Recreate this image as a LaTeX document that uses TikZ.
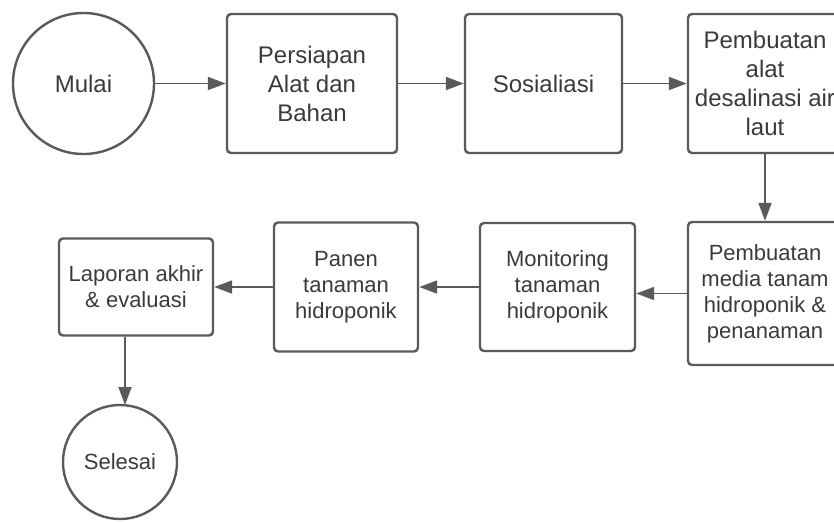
\documentclass[tikz,border=0pt]{standalone}
\usepackage{fontspec}
\setmainfont{Liberation Sans}
\usetikzlibrary{arrows.meta}
\definecolor{garis}{HTML}{5A5A5A}
\definecolor{teks}{HTML}{3A3A3A}
\tikzset{
  kotak/.style={draw=garis,line width=2.4pt,rounded corners=4pt,align=center,text=teks,inner sep=0pt},
  bulat/.style={draw=garis,line width=2.4pt,circle,align=center,text=teks,inner sep=0pt},
  besar/.style={font=\fontsize{24}{29}\selectfont},
  kecil/.style={font=\fontsize{22}{26}\selectfont},
  panah/.style={draw=garis,line width=1.8pt,-{Triangle[length=18pt,width=13pt]}}
}
\begin{document}
\begin{tikzpicture}[x=1pt,y=-1pt]
  \useasboundingbox (0,0) rectangle (834,523);
  \clip (0,0) rectangle (834,523);

  % Baris atas
  \node[bulat,besar,minimum size=141pt] (mulai) at (83.5,83.5) {Mulai};
  \node[kotak,besar,minimum width=170pt,minimum height=139pt] (persiapan) at (312,83.5) {Persiapan\\Alat dan\\Bahan};
  \node[kotak,besar,minimum width=157pt,minimum height=139pt] (sosialiasi) at (543.5,83.5) {Sosialiasi};
  \node[kotak,besar,minimum width=154pt,minimum height=139pt] (alat) at (765,83.5) {Pembuatan\\alat\\desalinasi air\\laut};

  % Baris bawah
  \node[kotak,kecil,minimum width=154pt,minimum height=143pt] (media) at (765,293.5) {Pembuatan\\media tanam\\hidroponik \&\\penanaman};
  \node[kotak,kecil,minimum width=155pt,minimum height=128pt] (monitoring) at (557.5,287) {Monitoring\\tanaman\\hidroponik};
  \node[kotak,kecil,minimum width=144pt,minimum height=129pt] (panen) at (346,287) {Panen\\tanaman\\hidroponik};
  \node[kotak,kecil,minimum width=154pt,minimum height=97pt] (laporan) at (136,287) {Laporan akhir\\\& evaluasi};

  % Akhir
  \node[bulat,kecil,minimum size=114pt] (selesai) at (120,462) {Selesai};
  \coordinate (masuk) at (125,405);

  % Panah alur
  \draw[panah] (mulai) -- (persiapan);
  \draw[panah] (persiapan) -- (sosialiasi);
  \draw[panah] (sosialiasi) -- (alat);
  \draw[panah] (alat) -- (media);
  \draw[panah] (media.west) -- (monitoring.east |- media.west);
  \draw[panah] (monitoring) -- (panen);
  \draw[panah] (panen) -- (laporan);
  \draw[panah] (laporan.south -| masuk) -- (masuk);
\end{tikzpicture}
\end{document}
